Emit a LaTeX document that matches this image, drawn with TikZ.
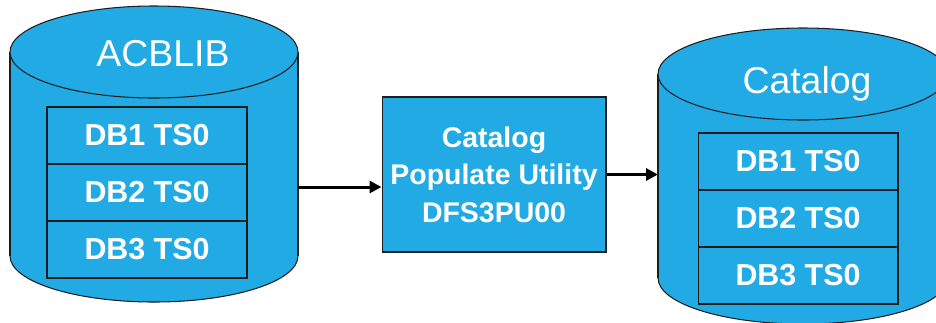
\documentclass[tikz,border=0pt]{standalone}
\usepackage{fontspec}
\setmainfont{Liberation Sans}
\usetikzlibrary{arrows.meta}

\definecolor{dbblue}{RGB}{33,170,228}
\definecolor{edge}{RGB}{30,30,30}

\tikzset{
    dbrow/.style={draw=edge, line width=0.6pt, minimum width=4cm, minimum height=1.14cm,
        inner sep=0pt, text=white, font=\bfseries\fontsize{17.3}{20}\selectfont},
    dbname/.style={text=white, inner sep=0pt, font=\fontsize{21.3}{25}\selectfont},
    utilbox/.style={draw=edge, line width=0.6pt, fill=dbblue, minimum width=4.48cm, minimum height=3.1cm,
        align=center, text=white, font=\bfseries\fontsize{16.2}{21.3}\selectfont},
    flow/.style={line width=1.7pt, -{Triangle[length=6.8pt, width=6.8pt]}}
}

\begin{document}
\begin{tikzpicture}[x=0.02cm, y=-0.02cm]

    \clip (0, 0) rectangle (936, 322);
    \useasboundingbox (0, 0) rectangle (936, 322);

    % source library
    \filldraw[fill=dbblue, draw=edge, line width=0.6pt] (154, 256) ellipse (144 and 46);
    \fill[dbblue] (10, 52) rectangle (298, 256);
    \draw[edge, line width=0.6pt] (10, 52) -- (10, 256);
    \draw[edge, line width=0.6pt] (298, 52) -- (298, 256);
    \filldraw[fill=dbblue, draw=edge, line width=0.6pt] (154, 52) ellipse (144 and 46);
    \node[dbname] (acblib) at (163, 54) {ACBLIB};
    \node[dbrow] (a1) at (147, 135.5) {DB1 TS0};
    \node[dbrow] (a2) at (147, 192.5) {DB2 TS0};
    \node[dbrow] (a3) at (147, 249.5) {DB3 TS0};

    % catalog
    \filldraw[fill=dbblue, draw=edge, line width=0.6pt] (803, 278) ellipse (145 and 46);
    \fill[dbblue] (658, 74) rectangle (948, 278);
    \draw[edge, line width=0.6pt] (658, 74) -- (658, 278);
    \draw[edge, line width=0.6pt] (948, 74) -- (948, 278);
    \filldraw[fill=dbblue, draw=edge, line width=0.6pt] (803, 74) ellipse (145 and 46);
    \node[dbname] (catalog) at (807, 84) {Catalog};
    \node[dbrow] (c1) at (798, 161.5) {DB1 TS0};
    \node[dbrow] (c2) at (798, 218.5) {DB2 TS0};
    \node[dbrow] (c3) at (798, 275.5) {DB3 TS0};

    % utility
    \node[utilbox] (util) at (494, 174.5) {Catalog\\Populate Utility\\DFS3PU00};

    \coordinate (acbout) at (298, 187);
    \coordinate (catin) at (658, 175);
    \draw[flow] (acbout) -- (acbout -| util.west);
    \draw[flow] (util.east) -- (util.east -| catin);

\end{tikzpicture}
\end{document}
